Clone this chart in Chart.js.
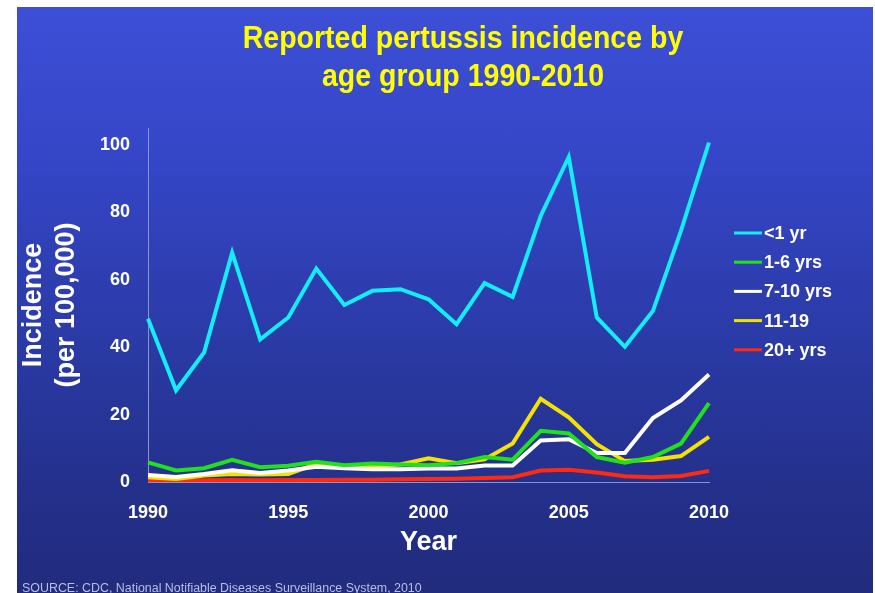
<!DOCTYPE html>
<html>
<head>
<meta charset="utf-8">
<title>Reported pertussis incidence by age group 1990-2010</title>
<script src="https://cdn.jsdelivr.net/npm/chart.js@4.4.1/dist/chart.umd.min.js"></script>
<style>
  html, body { margin: 0; padding: 0; background: #fff; }
  body { width: 875px; height: 593px; position: relative; overflow: hidden; font-family: "Liberation Sans", Arial, sans-serif; }
  #slide {
    position: absolute; left: 17px; top: 7px; width: 856px; height: 586px;
    background: linear-gradient(to bottom, #3d4fd6 0%, #3546c8 25%, #2b3ba8 55%, #232f88 85%, #212c7e 100%);
  }
  #chart { position: absolute; left: 0; top: 0; }
  #title {
    position: absolute; left: 36px; right: 0; top: 12px;
    text-align: center; color: #ffff00; font-weight: bold;
    font-size: 31px; line-height: 38px;
    transform: scaleX(0.92); transform-origin: center;
    z-index: 2;
  }
  #source {
    position: absolute; left: 5px; top: 575px; white-space: nowrap;
    color: #b9bfe3; font-size: 12px; line-height: 12px;
    transform: scaleX(1.035); transform-origin: left;
    z-index: 2;
  }
</style>
</head>
<body>
<div id="slide">
  <div id="title">Reported pertussis incidence by<br>age group 1990-2010</div>
  <canvas id="chart" width="856" height="586"></canvas>
  <div id="source">SOURCE: CDC, National Notifiable Diseases Surveillance System, 2010</div>
</div>

<script>
document.addEventListener("DOMContentLoaded", () => {
  /* =========================
     DATA
  ========================= */
  const years = [1990, 1991, 1992, 1993, 1994, 1995, 1996, 1997, 1998, 1999, 2000,
                 2001, 2002, 2003, 2004, 2005, 2006, 2007, 2008, 2009, 2010];

  const seriesNames = ["<1 yr", "1-6 yrs", "7-10 yrs", "11-19", "20+ yrs"];

  const under1   = [48.4, 27.2, 38.4, 68.0, 42.3, 48.8, 63.3, 52.5, 56.7, 57.2, 54.2,
                    46.8, 59.0, 54.9, 78.9, 96.4, 48.8, 40.1, 50.7, 74.5, 100.7];
  const age1to6  = [5.8, 3.4, 4.1, 6.6, 4.4, 4.8, 6.0, 5.0, 5.5, 5.2, 5.0,
                    5.6, 7.4, 6.6, 15.2, 14.4, 7.4, 5.7, 7.4, 11.4, 23.4];
  const age7to10 = [2.1, 1.5, 2.4, 3.5, 2.7, 3.4, 4.5, 4.1, 3.8, 3.8, 4.0,
                    4.0, 4.9, 4.9, 12.3, 12.7, 8.6, 8.6, 19.0, 24.2, 31.9];
  const age11to19 = [1.4, 0.9, 1.9, 2.4, 2.2, 2.4, 5.3, 4.3, 4.6, 5.2, 7.0,
                     5.6, 6.7, 11.4, 24.7, 19.2, 11.2, 6.2, 6.6, 7.7, 13.4];
  const age20plus = [0.5, 0.3, 0.5, 0.6, 0.5, 0.6, 0.6, 0.7, 0.7, 0.8, 0.9,
                     1.0, 1.2, 1.4, 3.4, 3.6, 2.8, 1.7, 1.4, 1.8, 3.3];

  const yTicksShown = [0, 20, 40, 60, 80, 100];

  /* =========================
     STYLE
  ========================= */
  const COLORS = ["#14ecf6", "#22e01c", "#ffffff", "#f4e200", "#ff2a10"];
  const FONT = '"Liberation Sans", Arial, sans-serif';

  // side legend, drawn by hand so it sits where the slide has it
  const sideLegend = {
    id: "sideLegend",
    afterDraw(chart) {
      const ctx = chart.ctx;
      ctx.save();
      ctx.font = `bold 18px ${FONT}`;
      ctx.textBaseline = "middle";
      ctx.textAlign = "left";
      chart.data.datasets.forEach((ds, i) => {
        const y = 226 + i * 29.2;
        ctx.strokeStyle = ds.borderColor;
        ctx.lineWidth = 3;
        ctx.beginPath();
        ctx.moveTo(717, y);
        ctx.lineTo(745, y);
        ctx.stroke();
        ctx.fillStyle = "#ffffff";
        ctx.fillText(ds.label, 747, y + 1);
      });
      ctx.restore();
    }
  };

  const values = [under1, age1to6, age7to10, age11to19, age20plus];

  const ctx = document.getElementById("chart").getContext("2d");

  new Chart(ctx, {
    type: "line",
    data: {
      labels: years,
      datasets: values.map((v, i) => ({
        label: seriesNames[i],
        data: v,
        borderColor: COLORS[i],
        backgroundColor: COLORS[i],
        borderWidth: 4,
        pointRadius: 0,
        tension: 0,
        fill: false
      }))
    },
    options: {
      responsive: false,
      animation: false,
      layout: { padding: { top: 121, right: 164, left: 0, bottom: 0 } },
      plugins: {
        legend: { display: false },
        title: { display: false },
        tooltip: { enabled: false }
      },
      scales: {
        x: {
          type: "category",
          offset: false,
          afterFit: scale => { scale.height = 111; },
          grid: { display: false, drawTicks: false },
          border: { display: true, color: "#8c94c8", width: 1 },
          ticks: {
            autoSkip: false,
            maxRotation: 0,
            padding: 20,
            color: "#ffffff",
            font: { family: FONT, size: 18, weight: "bold" },
            callback: (val, i) => (years[i] % 5 === 0 ? String(years[i]) : "")
          },
          title: {
            display: true,
            text: "Year",
            color: "#ffffff",
            font: { family: FONT, size: 27, weight: "bold" },
            padding: { top: 0, bottom: 34 }
          }
        },
        y: {
          min: 0,
          max: 105,
          afterFit: scale => { scale.width = 131; },
          afterBuildTicks: scale => {
            scale.ticks = yTicksShown.map(v => ({ value: v }));
          },
          grid: { display: false, drawTicks: false },
          border: { display: true, color: "#8c94c8", width: 1 },
          ticks: {
            padding: 18,
            color: "#ffffff",
            font: { family: FONT, size: 18, weight: "bold" }
          },
          title: {
            display: true,
            text: ["Incidence", "(per 100,000)"],
            color: "#ffffff",
            font: { family: FONT, size: 27, weight: "bold", lineHeight: 1.22 },
            padding: { top: 0, bottom: 0 }
          }
        }
      }
    },
    plugins: [sideLegend]
  });
});
</script>
</body>
</html>
